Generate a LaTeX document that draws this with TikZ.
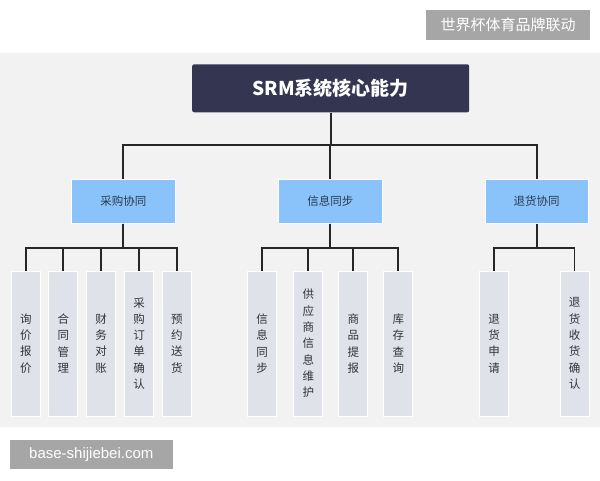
\documentclass[tikz,border=0pt]{standalone}
\usepackage{fontspec}
\setmainfont{Noto Sans CJK SC}
\newfontfamily\cjk{Noto Sans CJK SC}
\newfontfamily\latinsans{Liberation Sans}
\definecolor{panel}{HTML}{F2F2F2}
\definecolor{navy}{HTML}{343651}
\definecolor{midblue}{HTML}{8AC3F9}
\definecolor{leaf}{HTML}{E0E2EA}
\definecolor{wm}{HTML}{A6A6A6}
\definecolor{txt}{HTML}{333333}
\definecolor{midtxt}{HTML}{2B3A52}
\tikzset{
  x=1pt, y=-1pt,
  topbox/.style={fill=navy, draw=none, rounded corners=2pt, minimum width=277pt, minimum height=48pt, inner sep=0pt, text=white, font=\cjk\bfseries\fontsize{19}{22}\selectfont},
  midbox/.style={fill=midblue, draw=white, line width=0.8pt, minimum width=103.5pt, minimum height=44pt, inner sep=0pt, text=midtxt, font=\cjk\fontsize{11.5}{13}\selectfont},
  leafbox/.style={fill=leaf, draw=white, line width=1pt, minimum width=29pt, minimum height=145pt, inner sep=0pt, text=txt, align=center, font=\cjk\fontsize{11.5}{16.3}\selectfont},
  conn/.style={draw=black!85, line width=1.8pt},
  wmbox/.style={fill=wm, text=white, inner sep=0pt}
}
\begin{document}
\begin{tikzpicture}
\useasboundingbox (0,0) rectangle (600,480);
\fill[white] (0,0) rectangle (600,480);
\fill[panel] (0,52.7) rectangle (600,426.7);

\node[wmbox, minimum width=164pt, minimum height=30pt, font=\cjk\fontsize{15}{17}\selectfont] (wm1) at (508,25) {世界杯体育品牌联动};
\node[wmbox, minimum width=162.7pt, minimum height=29.3pt, font=\latinsans\fontsize{15}{17}\selectfont] (wm2) at (91.3,454.7) {base-shijiebei.com};

\node[topbox] (top) at (330.7,88.3) {SRM系统核心能力};

\node[midbox] (m1) at (123.3,201.3) {采购协同};
\node[midbox] (m2) at (330.3,201.3) {信息同步};
\node[midbox] (m3) at (536.7,201.3) {退货协同};

\node[leafbox] (a1) at (25.8,343.5) {询\\价\\报\\价};
\node[leafbox] (a2) at (63.3,343.5) {合\\同\\管\\理};
\node[leafbox] (a3) at (101.2,343.5) {财\\务\\对\\账};
\node[leafbox] (a4) at (139,343.5) {采\\购\\订\\单\\确\\认};
\node[leafbox] (a5) at (176.8,343.5) {预\\约\\送\\货};

\node[leafbox] (b1) at (262,343.5) {信\\息\\同\\步};
\node[leafbox] (b2) at (308.3,343.5) {供\\应\\商\\信\\息\\维\\护};
\node[leafbox] (b3) at (353.3,343.5) {商\\品\\提\\报};
\node[leafbox] (b4) at (398.3,343.5) {库\\存\\查\\询};

\node[leafbox] (c1) at (494.2,343.5) {退\\货\\申\\请};
\node[leafbox] (c2) at (574.5,343.5) {退\\货\\收\\货\\确\\认};

\foreach \m in {m1,m2,m3}
  \draw[conn] (top.south) -- ++(0,32.7) -| (\m.north);
\foreach \c in {a1,a2,a3,a4,a5}
  \draw[conn] (m1.south) -- ++(0,24.4) -| (\c.north);
\foreach \c in {b1,b2,b3,b4}
  \draw[conn] (m2.south) -- ++(0,24.4) -| (\c.north);
\foreach \c in {c1,c2}
  \draw[conn] (m3.south) -- ++(0,24.4) -| (\c.north);
\end{tikzpicture}
\end{document}
